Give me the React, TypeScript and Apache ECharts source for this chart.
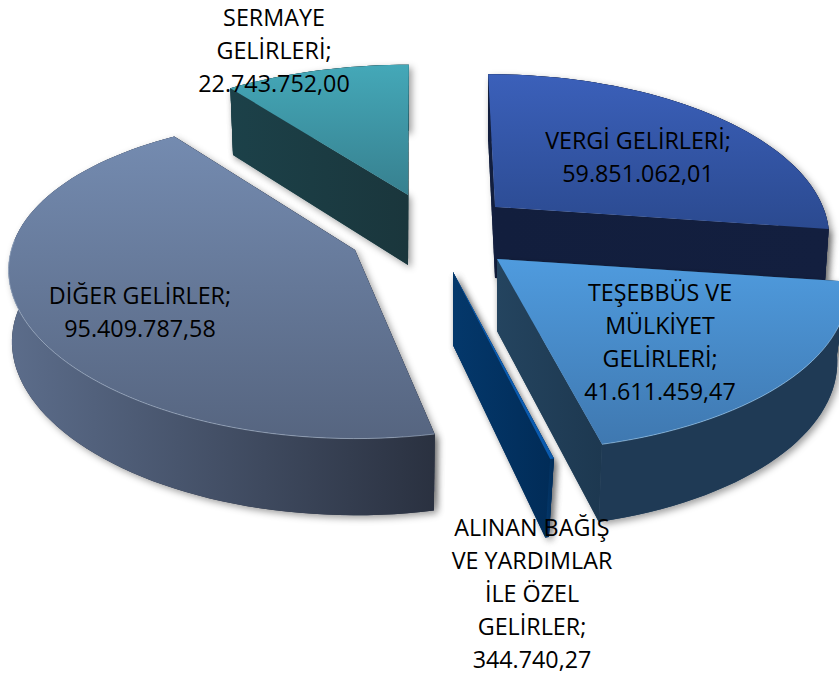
import React, { useEffect, useRef } from "react";
import * as echarts from "echarts";

const categories = ["VERGİ GELİRLERİ", "TEŞEBBÜS VE MÜLKİYET GELİRLERİ", "ALINAN BAĞIŞ VE YARDIMLAR İLE ÖZEL GELİRLER", "DİĞER GELİRLER", "SERMAYE GELİRLERİ"];
const values = [59851062.01, 41611459.47, 344740.27, 95409787.58, 22743752.0];
const labelTexts = [
  "VERGİ GELİRLERİ;\n59.851.062,01",
  "TEŞEBBÜS VE\nMÜLKİYET\nGELİRLERİ;\n41.611.459,47",
  "ALINAN BAĞIŞ\nVE YARDIMLAR\nİLE ÖZEL\nGELİRLER;\n344.740,27",
  "DİĞER GELİRLER;\n95.409.787,58",
  "SERMAYE\nGELİRLERİ;\n22.743.752,00",
];

// Per-slice look: exploded apex position, perspective ellipse, depth, colours.
const geometry = [
  { ax: 495, ay: 207, R: 328, Rv: 155, k: 0.167, sk: -8, bend: 0, skY: 0, d: 71, xs: 0.985, order: 1, lx: 638, ly: 156.5, top: ["#3b60ba", "#2b4a90"], wall: ["#121e3d", "#131f3f"], arcWall: ["#121e3d", "#131f3f"], rim: "rgba(120,150,220,0.5)", front: false },
  { ax: 497, ay: 259, R: 345, Rv: 160, k: 0.167, sk: -5, bend: 0, skY: 0, d: 72, xs: 0.97, order: 3, lx: 660, ly: 341.5, top: ["#4f9bde", "#3f78b0"], wall: ["#24445f", "#1d3850"], arcWall: ["#1f3a55", "#1f3a55"], rim: "rgba(160,205,240,0.6)", front: true },
  { ax: 453, ay: 272, R: 335, Rv: 161, k: 0.167, sk: -4, bend: 0, skY: 0, d: 73, xs: 0.95, order: 4, lx: 532, ly: 593, top: ["#0b5fb8", "#0a5aae"], wall: ["#04386b", "#012c58"], arcWall: ["#04386b", "#012c58"], rim: "rgba(0,0,0,0)", front: true },
  { ax: 355, ay: 250, R: 342, Rv: 157, k: 0.167, sk: 10, bend: 12, skY: 6, d: 71, xs: 0.99, order: 2, lx: 140, ly: 311.5, top: ["#748bb0", "#566580"], wall: ["#2b3241", "#2b3241"], arcWall: ["#5c6d8b", "#2a3140"], rim: "rgba(190,205,225,0.5)", front: true },
  { ax: 408, ay: 195, R: 334, Rv: 152, k: 0.167, sk: 1, bend: 0, skY: 0, d: 70, xs: 0.985, order: 0, lx: 274, ly: 49.5, top: ["#44a8b8", "#37808f"], wall: ["#1c4149", "#1a363c"], arcWall: ["#1c4149", "#1a363c"], rim: "rgba(120,200,210,0.5)", front: false },
];

const total = values.reduce((a, b) => a + b, 0);
const startAngles: number[] = [];
values.reduce((acc, v, i) => {
  startAngles[i] = acc;
  return acc + (v / total) * 360;
}, 0);

function project(g: any, deg: number, bottom: boolean): number[] {
  const th = (deg * Math.PI) / 180;
  const sin = Math.sin(th);
  const cos = Math.cos(th);
  const s = 1 / (1 + g.k * cos);
  let dx = (g.R * sin + g.sk * cos + g.bend * sin * cos) * s;
  let dy = (-g.Rv * cos + g.skY * sin) * s;
  if (bottom) {
    dx *= g.xs;
    dy *= 1.03;
  }
  return [g.ax + dx, g.ay + dy + (bottom ? g.d : 0)];
}

const grad = (c: string[], horizontal = false) => ({
  type: "linear",
  x: 0,
  y: 0,
  x2: horizontal ? 1 : 0,
  y2: horizontal ? 0 : 1,
  colorStops: [
    { offset: 0, color: c[0] },
    { offset: 1, color: c[1] },
  ],
});

function renderItem(params: any, api: any) {
  const i = params.dataIndex;
  const g = geometry[i];
  const sweep = (api.value(0) / total) * 360;
  const a0 = startAngles[i];
  const n = Math.max(2, Math.ceil(sweep / 2));
  const arcTop: number[][] = [];
  const arcBot: number[][] = [];
  const rimPts: number[][] = [];
  for (let j = 0; j <= n; j++) {
    const a = a0 + (sweep * j) / n;
    const p = project(g, a, false);
    arcTop.push(p);
    arcBot.push(project(g, a, true));
    if (g.front && Math.cos((a * Math.PI) / 180) < 0.05) rimPts.push(p);
  }
  const apexT = [g.ax, g.ay];
  const apexB = [g.ax, g.ay + g.d];
  const base = g.order * 10;
  const wallStart = [apexT, arcTop[0], arcBot[0], apexB];
  const wallEnd = [apexT, arcTop[n], arcBot[n], apexB];
  const wallArc = [...arcTop, ...arcBot.slice().reverse()];
  const shadow = {
    shadowBlur: 7,
    shadowColor: "rgba(0,0,0,0.38)",
    shadowOffsetX: 3,
    shadowOffsetY: 3,
  };
  const poly = (points: number[][], style: any, z: number) => ({
    type: "polygon",
    shape: { points },
    style,
    z2: base + z,
    silent: true,
  });
  const walls = [
    poly(wallStart, { fill: grad(g.wall, true) }, 2),
    poly(wallEnd, { fill: grad(g.wall, true) }, 2),
    poly(wallArc, { fill: grad(g.arcWall, true) }, g.front ? 3 : 1),
  ];
  return {
    type: "group",
    children: [
      poly(wallEnd, { fill: g.wall[0], ...shadow }, 0),
      poly(wallArc, { fill: g.arcWall[1], ...shadow }, 0),
      poly(wallStart, { fill: g.wall[0], ...shadow }, 0),
      ...walls,
      poly([apexT, ...arcTop], { fill: grad(g.top) }, 4),
      ...(rimPts.length > 1
        ? [
            {
              type: "polyline",
              shape: { points: rimPts },
              style: { fill: "none", stroke: g.rim, lineWidth: 1 },
              z2: base + 5,
              silent: true,
            },
          ]
        : []),
      {
        type: "text",
        style: {
          text: labelTexts[i],
          x: g.lx,
          y: g.ly,
          align: "center",
          verticalAlign: "middle",
          fill: "#000000",
          fontFamily: "Open Sans",
          fontSize: 23.3,
          lineHeight: 33,
        },
        z2: 200,
        silent: true,
      },
    ],
  };
}

export default function App() {
  const ref = useRef<HTMLDivElement>(null);
  useEffect(() => {
    const chart = echarts.init(ref.current!, undefined, { renderer: "svg" });
    chart.setOption({
      animation: false,
      backgroundColor: "#ffffff",
      series: [
        {
          type: "custom",
          coordinateSystem: "none",
          renderItem,
          data: values.map((v, i) => ({ name: categories[i], value: v })),
        },
      ],
    });
    return () => chart.dispose();
  }, []);
  return <div ref={ref} style={{ position: "fixed", left: 0, top: 0, width: 839, height: 677 }} />;
}
